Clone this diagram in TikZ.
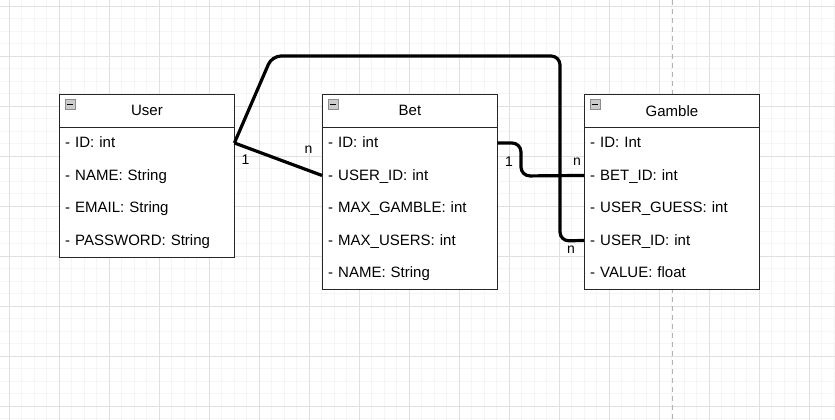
\documentclass[tikz,border=0pt]{standalone}
\usepackage{fontspec}
\setmainfont{Liberation Sans}
\begin{document}
\begin{tikzpicture}[x=1pt,y=-1pt,
  boxline/.style={draw=black!85, line width=0.9pt},
  header/.style={boxline, fill=white, minimum width=175pt, minimum height=32.5pt, anchor=north west, inner sep=0pt, font=\fontsize{15}{18}\selectfont},
  row/.style={minimum height=32.5pt, text width=163pt, inner xsep=6pt, inner ysep=0pt, text depth=1.5pt, align=left, anchor=north west, font=\fontsize{15}{18}\selectfont},
  outer/.style={boxline, fill=white, minimum width=175pt, anchor=north west, inner sep=0pt},
  icon/.style={draw=black!45, fill=black!20, minimum size=10pt, inner sep=0pt, line width=0.8pt},
  conn/.style={line width=3.2pt, black, rounded corners=9pt},
  card/.style={font=\fontsize{14}{16}\selectfont, inner sep=0pt}
]
\useasboundingbox (0,0) rectangle (835,420);
\fill[white] (0,0) rectangle (835,420);
% grid
\foreach \i in {0,...,67} \draw[black!4, line width=0.8pt] ({-3.5+12.5*\i},0) -- ({-3.5+12.5*\i},420);
\foreach \i in {0,...,34} \draw[black!4, line width=0.8pt] (0,{-6.5+12.5*\i}) -- (835,{-6.5+12.5*\i});
\foreach \i in {0,...,16} \draw[black!12, line width=0.8pt] ({9+50*\i},0) -- ({9+50*\i},420);
\foreach \i in {0,...,8} \draw[black!12, line width=0.8pt] (0,{6+50*\i}) -- (835,{6+50*\i});
\draw[black!30, line width=0.8pt, dash pattern=on 5pt off 4pt] (672,0) -- (672,420);

% User
\node[outer, minimum height=162.5pt] (userbox) at (59,94) {};
\node[header] (user) at (59,94) {User};
\node[row] (uid) at (59,126.5) {- ID: int};
\node[row] (uname) at (59,159) {- NAME: String};
\node[row] (uemail) at (59,191.5) {- EMAIL: String};
\node[row] (upass) at (59,224) {- PASSWORD: String};
\node[icon] (uicon) at (70,104.5) {};
\draw[line width=1pt] ([xshift=2pt]uicon.west) -- ([xshift=-2pt]uicon.east);

% Bet
\node[outer, minimum height=195pt] (betbox) at (322,94) {};
\node[header] (bet) at (322,94) {Bet};
\node[row] (bid) at (322,126.5) {- ID: int};
\node[row] (buser) at (322,159) {- USER\_ID: int};
\node[row] (bmaxg) at (322,191.5) {- MAX\_GAMBLE: int};
\node[row] (bmaxu) at (322,224) {- MAX\_USERS: int};
\node[row] (bname) at (322,256.5) {- NAME: String};
\node[icon] (bicon) at (333,104.5) {};
\draw[line width=1pt] ([xshift=2pt]bicon.west) -- ([xshift=-2pt]bicon.east);

% Gamble
\node[outer, minimum height=195pt] (gambox) at (584,94) {};
\node[header] (gamble) at (584,94) {Gamble};
\node[row] (gid) at (584,126.5) {- ID: Int};
\node[row] (gbet) at (584,159) {- BET\_ID: int};
\node[row] (gguess) at (584,191.5) {- USER\_GUESS: int};
\node[row] (guser) at (584,224) {- USER\_ID: int};
\node[row] (gvalue) at (584,256.5) {- VALUE: float};
\node[icon] (gicon) at (595,104.5) {};
\draw[line width=1pt] ([xshift=2pt]gicon.west) -- ([xshift=-2pt]gicon.east);

% connectors
\draw[conn] (uid.east) -- (272,56) -- (560,56) -- (560,241) -- (guser.west);
\draw[conn] (uid.east) -- (buser.west);
\draw[conn] (bid.east) -- (521,143) -- (521,176) -- (gbet.west);

% labels
\node[card] (l1) at (245.5,160) {1};
\node[card] (l2) at (308.5,150) {n};
\node[card] (l3) at (509,162) {1};
\node[card] (l4) at (577,162) {n};
\node[card] (l5) at (571,250) {n};
\end{tikzpicture}
\end{document}
